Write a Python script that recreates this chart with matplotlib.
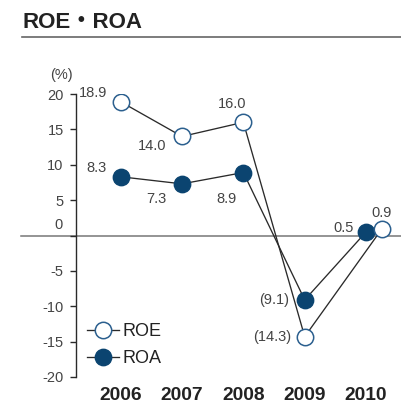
import matplotlib
matplotlib.use("Agg")
import matplotlib.pyplot as plt
import numpy as np
from matplotlib.lines import Line2D
import matplotlib.transforms as mtransforms

years = ["2006", "2007", "2008", "2009", "2010"]
roe = [18.9, 14.0, 16.0, -14.3, 0.9]
roa = [8.3, 7.3, 8.9, -9.1, 0.5]
roe_labels = ["18.9", "14.0", "16.0", "(14.3)", "0.9"]
roa_labels = ["8.3", "7.3", "8.9", "(9.1)", "0.5"]
yticks = [-20, -15, -10, -5, 0, 5, 10, 15, 20]

plt.rcParams['font.family'] = ['Liberation Sans', 'Noto Sans CJK JP', 'DejaVu Sans']

W, H = 401, 407
fig = plt.figure(figsize=(W / 100, H / 100), dpi=100)
ax = fig.add_axes([75.5 / W, 30 / H, 1 - 75.5 / W, (377 - 94) / H])
ax.set_xlim(-0.737, 4.57)
ax.set_ylim(-20, 20)

x = np.arange(len(years), dtype=float)
x_roe = x.copy()
x_roe[-1] += 0.256  # 2010 ROE drawn slightly right

navy = "#0b4470"
edge = "#2b5f8e"
linec = "#2a2a2a"
txtc = "#444444"

ax.plot(x_roe, roe, color=linec, lw=0.95, zorder=2)
ax.plot(x, roa, color=linec, lw=0.95, zorder=2)
ax.plot(x, roa, ls='none', marker='o', ms=11.8, mfc=navy, mec=navy, mew=1, zorder=3)
ax.plot(x_roe, roe, ls='none', marker='o', ms=11.8, mfc='white', mec=edge, mew=1.1, zorder=4)

# value labels (offsets in px -> pt)
roe_off = [(-28, 9), (-30, -10), (-11, 18), (-33, 0), (0, 16)]
roa_off = [(-24, 9), (-26, -15), (-17, -26), (-31, 0), (-22, 4)]
for xi, v, lab, (dx, dy) in zip(x_roe, roe, roe_labels, roe_off):
    ax.annotate(lab, (xi, v), xytext=(dx * 0.72, dy * 0.72), textcoords='offset points',
                ha='center', va='center', fontsize=10.5, color=txtc, zorder=5)
for xi, v, lab, (dx, dy) in zip(x, roa, roa_labels, roa_off):
    ax.annotate(lab, (xi, v), xytext=(dx * 0.72, dy * 0.72), textcoords='offset points',
                ha='center', va='center', fontsize=10.5, color=txtc, zorder=5)

# axes styling
for s in ['top', 'right', 'bottom']:
    ax.spines[s].set_visible(False)
ax.spines['left'].set_color(linec)
ax.spines['left'].set_linewidth(1.0)
ax.set_yticks(yticks)
ax.set_yticklabels([str(t) if t != 0 else "" for t in yticks])
ax.tick_params(axis='y', direction='out', length=4.5, width=1.0, color=linec,
               labelsize=10.5, labelcolor=txtc, pad=4)
ax.set_xticks(x)
ax.set_xticklabels(years, fontsize=13.8, fontweight='bold', color='#222222')
ax.tick_params(axis='x', length=0, pad=7)

# zero label shifted above the zero line
ax.annotate("0", (0, 0), xycoords=('axes fraction', 'data'), xytext=(-9, 7.5),
            textcoords='offset points', ha='right', va='center', fontsize=10.5, color=txtc)
ax.annotate("(%)", (0, 20), xycoords=('axes fraction', 'data'), xytext=(-10, 14),
            textcoords='offset points', ha='center', va='center', fontsize=10.5, color=txtc)

# zero line extending to left margin
trans = mtransforms.blended_transform_factory(fig.transFigure, ax.transData)
ax.add_line(Line2D([21 / W, 1], [0, 0], transform=trans, color='#777777', lw=1.1,
                   clip_on=False, zorder=1))

# legend
handles = [Line2D([0], [0], color=linec, lw=0.95, marker='o', ms=11.8, mfc='white', mec=edge, mew=1.1),
           Line2D([0], [0], color=linec, lw=0.95, marker='o', ms=11.8, mfc=navy, mec=navy, mew=1)]
ax.legend(handles, ["ROE", "ROA"], loc='upper left', bbox_to_anchor=(87 / W, 1 - 323 / H),
          bbox_transform=fig.transFigure, frameon=False, fontsize=13, handlelength=1.75,
          handletextpad=0.2, labelspacing=0.55, borderpad=0, borderaxespad=0,
          labelcolor='#222222')

# title
fig.text(22 / W, 1 - 28 / H, "ROE・ROA", fontsize=16, fontweight='bold', color='#222222',
         ha='left', va='baseline')
fig.add_artist(Line2D([22 / W, 1], [1 - 36.5 / H, 1 - 36.5 / H], transform=fig.transFigure,
                      color='#666666', lw=1.2))

fig.savefig("out.png", dpi=100)
